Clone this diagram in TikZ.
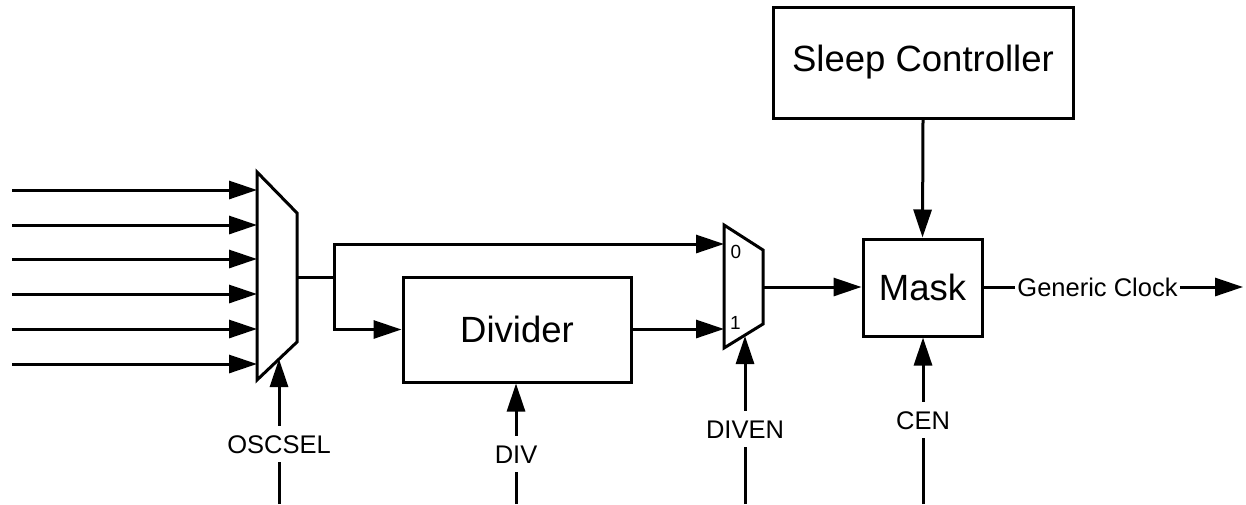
\documentclass[tikz,border=0pt]{standalone}
\usepackage{fontspec}
\setmainfont{Liberation Sans}
\usetikzlibrary{arrows.meta}
\begin{document}
\begin{tikzpicture}[x=1pt,y=-1pt,
  wire/.style={line width=3pt},
  arr/.style={wire,-{Triangle[length=28pt 0 0,width=18pt 0 0]}},
  blk/.style={draw,line width=3pt,inner sep=0pt,font=\fontsize{36.5}{40}\selectfont},
  sig/.style={inner sep=0pt,text height=18.3pt,text depth=0pt,outer sep=9pt,font=\fontsize{25.5}{28}\selectfont},
  outlbl/.style={inner xsep=2pt,inner ysep=0pt,font=\fontsize{25.5}{28}\selectfont},
  muxlbl/.style={inner sep=0pt,font=\fontsize{19}{21}\selectfont}]
\useasboundingbox (0,0) rectangle (1246,504);
% first multiplexer
\draw[wire,line join=miter] (257,172) -- (297,213) -- (297,342) -- (257,380) -- cycle;
\coordinate (m1out) at (297,277);
\coordinate (m1sel) at (279,359);
\foreach \i/\y in {1/190,2/225,3/259,4/294,5/329,6/364}{
  \coordinate (src\i) at (12,\y);
  \coordinate (m1in\i) at (257,\y);
  \draw[arr] (src\i) -- (m1in\i);
}
\coordinate (split) at (334,277);
% second multiplexer
\draw[wire,line join=miter] (724,225) -- (763,250) -- (763,324) -- (724,348) -- cycle;
\coordinate (m2in0) at (724,244);
\coordinate (m2in1) at (724,329);
\coordinate (m2out) at (763,287);
\coordinate (m2sel) at (745,336);
\node[muxlbl] (lbl0) at (736,252) {0};
\node[muxlbl] (lbl1) at (735.5,322.5) {1};
% blocks
\node[blk,minimum width=228pt,minimum height=105pt] (divider) at (517,329.5) {Divider};
\node[blk,minimum width=119pt,minimum height=97pt] (mask) at (922.5,287.5) {Mask};
\node[blk,minimum width=300pt,minimum height=111pt] (sleep) at (923,62.5) {Sleep Controller};
% connections
\draw[wire] (m1out) -- (split);
\draw[arr] (split) |- (m2in0);
\draw[arr] (split) |- (divider.west);
\draw[arr] (divider.east |- m2in1) -- (m2in1);
\draw[arr] (m2out) -- (mask.west |- m2out);
\draw[arr] (sleep.south) -- (mask.north);
% output
\node[outlbl] (gclk) at (1097.5,287) {Generic Clock};
\coordinate (gout) at (1243,287);
\draw[wire] (mask.east |- gclk) -- (gclk.west);
\draw[arr] (gclk.east) -- (gout);
% control signals
\node[sig] (oscsel) at (279,444) {OSCSEL};
\coordinate (oscb) at (279,504);
\draw[wire] (oscb) -- (oscsel.south);
\draw[arr] (oscsel.north) -- (m1sel);
\node[sig] (div) at (516,454) {DIV};
\coordinate (divb) at (516,504);
\draw[wire] (divb) -- (div.south);
\draw[arr] (div.north) -- (divider.south -| div);
\node[sig] (diven) at (745,429) {DIVEN};
\coordinate (divenb) at (745,504);
\draw[wire] (divenb) -- (diven.south);
\draw[arr] (diven.north) -- (m2sel);
\node[sig] (cen) at (923,420) {CEN};
\coordinate (cenb) at (923,504);
\draw[wire] (cenb) -- (cen.south);
\draw[arr] (cen.north) -- (mask.south -| cen);
\end{tikzpicture}
\end{document}
